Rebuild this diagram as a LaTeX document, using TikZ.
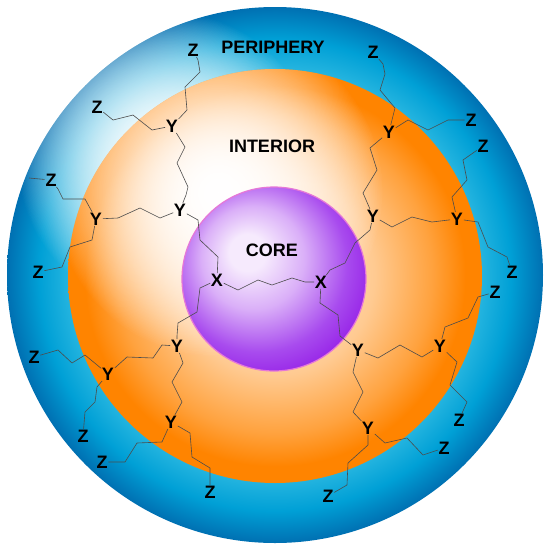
\documentclass[tikz,border=0pt]{standalone}
\usepackage{fontspec}
\setmainfont{Liberation Sans}
\usetikzlibrary{fadings}

\definecolor{blueA}{RGB}{40,182,224}
\definecolor{blueM}{RGB}{0,160,214}
\definecolor{blueB}{RGB}{0,112,178}
\definecolor{orangeC}{RGB}{255,238,218}
\definecolor{orangeP}{RGB}{255,202,145}
\definecolor{orangeM}{RGB}{255,162,62}
\definecolor{orangeE}{RGB}{255,132,0}
\definecolor{coreA}{RGB}{246,234,253}
\definecolor{coreB}{RGB}{218,175,248}
\definecolor{coreC}{RGB}{168,75,238}
\definecolor{coreD}{RGB}{135,0,225}
\definecolor{corepink}{RGB}{230,120,215}

\pgfdeclareradialshading{ringblue}{\pgfpoint{0bp}{0bp}}{color(0bp)=(blueA); color(19bp)=(blueA); color(22bp)=(blueM); color(25bp)=(blueB); color(50bp)=(blueB)}
\pgfdeclareradialshading{orangeglow}{\pgfpoint{0bp}{0bp}}{color(0bp)=(orangeC); color(12bp)=(orangeP); color(19bp)=(orangeM); color(23bp)=(orangeE); color(50bp)=(orangeE)}
\pgfdeclareradialshading{coreball}{\pgfpoint{-8bp}{8bp}}{color(0bp)=(coreA); color(5bp)=(coreA); color(14bp)=(coreB); color(24bp)=(coreC); color(36bp)=(coreD); color(50bp)=(coreD)}
\tikzfading[name=glowfade, inner color=transparent!0, outer color=transparent!100]

\begin{document}
\begin{tikzpicture}[x=1pt, y=-1pt,
        atom/.style={font=\bfseries\fontsize{18}{18}\selectfont, inner sep=0.6pt},
        tag/.style={font=\bfseries\fontsize{18}{18}\selectfont},
        glow/.style={white, path fading=glowfade},
        bond/.style={draw=black!70, line width=0.6pt, line join=round}]
        \useasboundingbox (0,0) rectangle (550,550);

        % Shells
        \shade[shading=ringblue] (275,275) circle[radius=268pt];
        \begin{scope}
            \clip (275,275) circle[radius=268pt];
            \fill[glow] (168,162) circle[radius=150pt];
            \fill[glow] (168,162) circle[radius=150pt];
        \end{scope}
        \shade[shading=orangeglow] (275,276) circle[radius=207pt];
        \begin{scope}
            \clip (275,276) circle[radius=207pt];
            \fill[glow] (218,192) circle[radius=165pt];
            \fill[glow] (218,192) circle[radius=165pt];
        \end{scope}
        \shade[shading=coreball, draw=corepink, line width=1.2pt] (274,279) circle[radius=92pt];

        % Labels
        \node (periphery) [tag] at (273,47) {PERIPHERY};
        \node (interior) [tag] at (272,146) {INTERIOR};
        \node (core) [tag] at (272,250) {CORE};

        % Nodes
        \node (x1) [atom] at (217,280) {X};
        \node (x2) [atom] at (321,282) {X};

        \node (y1) [atom] at (172,126) {Y};
        \node (y2) [atom] at (180,210) {Y};
        \node (y3) [atom] at (96,219) {Y};
        \node (y4) [atom] at (389,132) {Y};
        \node (y5) [atom] at (373,216) {Y};
        \node (y6) [atom] at (457,219) {Y};
        \node (y7) [atom] at (177,346) {Y};
        \node (y8) [atom] at (108,374) {Y};
        \node (y9) [atom] at (171,422) {Y};
        \node (y10) [atom] at (358,350) {Y};
        \node (y11) [atom] at (440,346) {Y};
        \node (y12) [atom] at (368,428) {Y};

        \node (z1) [atom] at (193,50) {Z};
        \node (z2) [atom] at (97,107) {Z};
        \node (z3) [atom] at (51,180) {Z};
        \node (z4) [atom] at (38,272) {Z};
        \node (z5) [atom] at (373,52) {Z};
        \node (z6) [atom] at (471,120) {Z};
        \node (z7) [atom] at (483,146) {Z};
        \node (z8) [atom] at (512,272) {Z};
        \node (z9) [atom] at (34,357) {Z};
        \node (z10) [atom] at (83,436) {Z};
        \node (z11) [atom] at (102,462) {Z};
        \node (z12) [atom] at (210,492) {Z};
        \node (z13) [atom] at (495,292) {Z};
        \node (z14) [atom] at (459,420) {Z};
        \node (z15) [atom] at (444,448) {Z};
        \node (z16) [atom] at (328,496) {Z};
        \coordinate (z3end) at (29,178);

        % Edges
        \draw[bond] (x1) -- (238,290) -- (258,280) -- (272,285) -- (292,278) -- (305,282) -- (x2);
        \draw[bond] (y2) -- (198,220) -- (200,240) -- (218,257) -- (x1);
        \draw[bond] (x1) -- (200,288) -- (197,312) -- (178,323) -- (177,336) -- (y7);
        \draw[bond] (y5) -- (370,230) -- (355,243) -- (345,263) -- (330,270) -- (x2);
        \draw[bond] (x2) -- (320,303) -- (338,315) -- (340,336) -- (y10);

        \draw[bond] (y1) -- (185,147) -- (177,163) -- (188,187) -- (186,195) -- (y2);
        \draw[bond] (y3) -- (118,218) -- (140,208) -- (160,218) -- (y2);
        \draw[bond] (y1) -- (187,110) -- (185,87) -- (200,72) -- (198,60) -- (z1);
        \draw[bond] (z2) -- (113,120) -- (133,115) -- (152,130) -- (y1);
        \draw[bond] (z3) -- (58,189) -- (63,199) -- (85,199) -- (y3);
        \draw[bond] (z3end) -- (z3);
        \draw[bond] (y3) -- (92,240) -- (70,247) -- (62,267) -- (z4);

        \draw[bond] (z5) -- (383,64) -- (385,74) -- (380,90) -- (395,108) -- (y4);
        \draw[bond] (y4) -- (408,120) -- (428,130) -- (448,120) -- (z6);
        \draw[bond] (y4) -- (370,148) -- (377,170) -- (363,193) -- (y5);
        \draw[bond] (y5) -- (392,227) -- (412,217) -- (432,222) -- (y6);
        \draw[bond] (y6) -- (452,197) -- (467,180) -- (463,160) -- (z7);
        \draw[bond] (y6) -- (478,222) -- (488,247) -- (507,257) -- (z8);

        \draw[bond] (y10) -- (378,358) -- (400,345) -- (422,357) -- (y11);
        \draw[bond] (y11) -- (445,327) -- (468,318) -- (478,297) -- (z13);
        \draw[bond] (y11) -- (457,362) -- (450,385) -- (467,402) -- (z14);
        \draw[bond] (y10) -- (353,372) -- (363,392) -- (353,412) -- (y12);
        \draw[bond] (y12) -- (385,443) -- (407,438) -- (423,455) -- (z15);
        \draw[bond] (y12) -- (368,445) -- (348,463) -- (347,485) -- (z16);

        \draw[bond] (y7) -- (162,345) -- (153,358) -- (127,357) -- (y8);
        \draw[bond] (y7) -- (183,363) -- (172,382) -- (182,402) -- (y9);
        \draw[bond] (y8) -- (85,355) -- (72,363) -- (58,350) -- (z9);
        \draw[bond] (y8) -- (97,387) -- (95,402) -- (85,412) -- (z10);
        \draw[bond] (y9) -- (162,442) -- (137,443) -- (125,462) -- (z11);
        \draw[bond] (y9) -- (190,433) -- (192,457) -- (210,468) -- (z12);
\end{tikzpicture}
\end{document}
